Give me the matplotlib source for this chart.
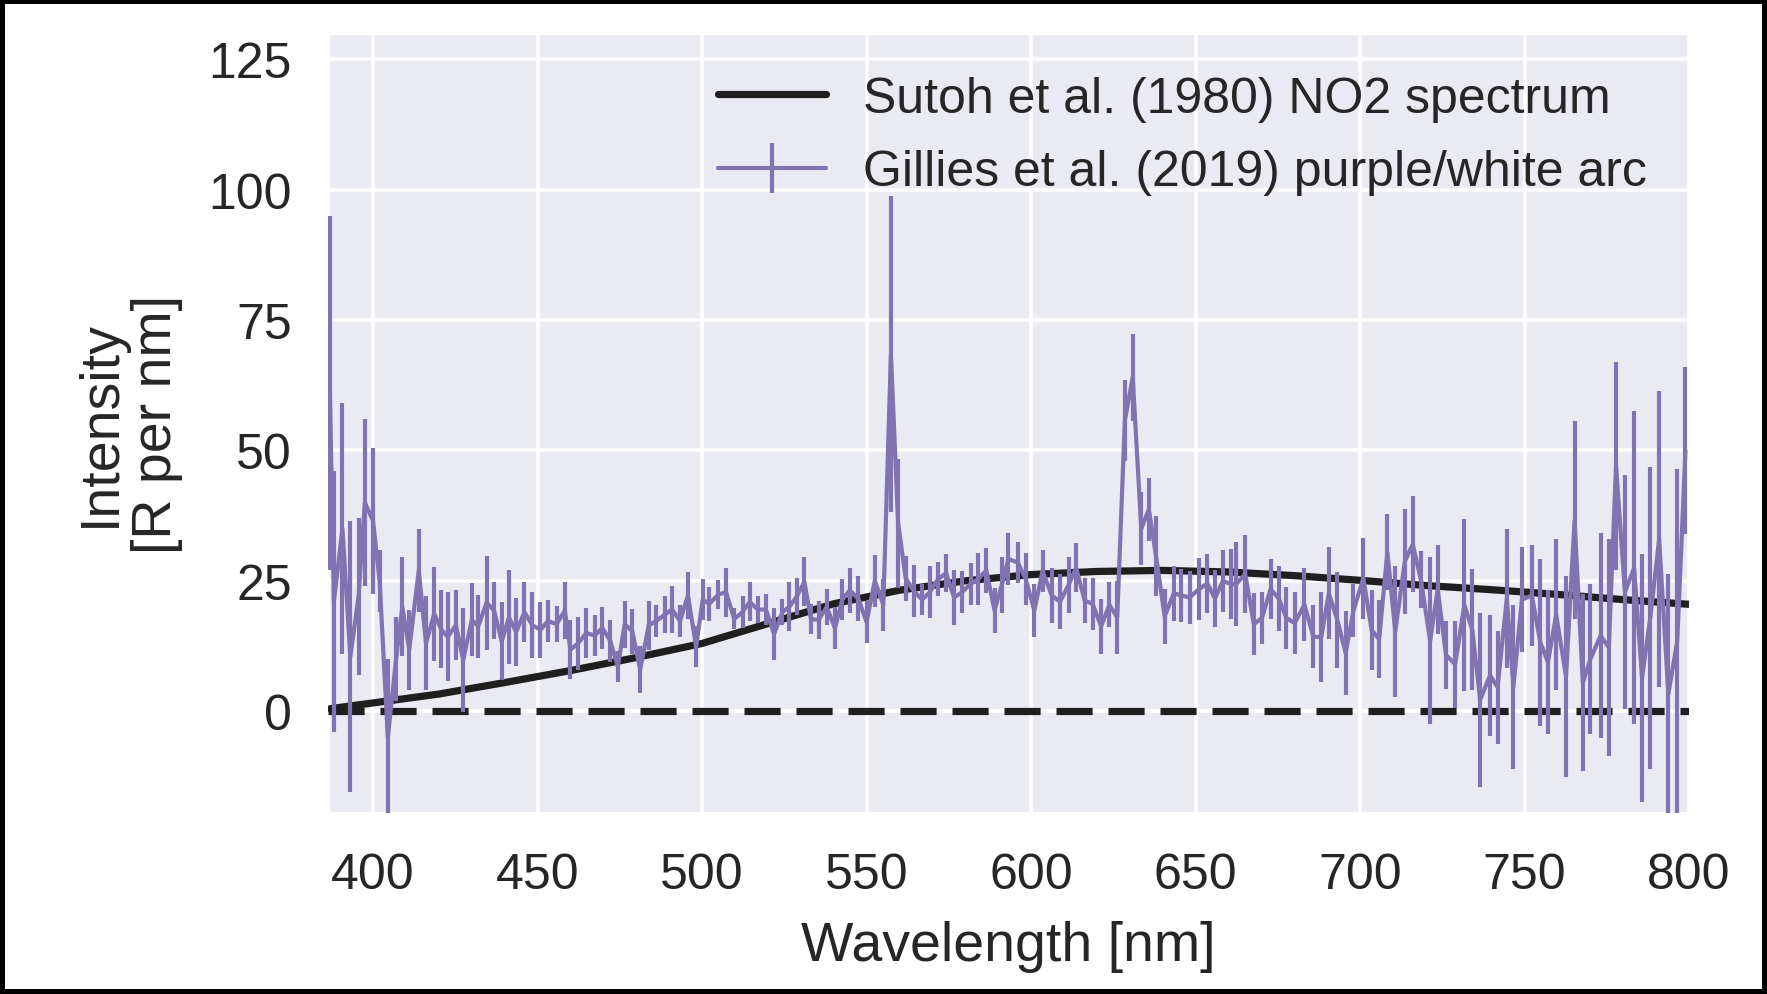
import numpy as np
import matplotlib
matplotlib.use("Agg")
import matplotlib.pyplot as plt
import seaborn as sns

sns.set_theme(style="darkgrid")
plt.rcParams['font.family'] = ['Liberation Sans', 'DejaVu Sans']

# Gillies et al. (2019) purple/white arc spectrum
wavelength = [
    386.9, 388.1, 390.7, 393.1, 395.6, 397.5, 400.0, 402.0, 404.5, 407.0,
    408.9, 411.0, 413.9, 416.1, 418.6, 420.7, 422.7, 425.2, 427.4, 430.0,
    432.0, 434.5, 436.8, 439.1, 441.3, 443.5, 446.0, 448.4, 450.9, 453.2,
    455.8, 458.3, 460.0, 462.3, 464.8, 467.4, 469.7, 472.1, 474.4, 476.5,
    478.8, 481.2, 483.8, 486.1, 488.6, 490.9, 493.3, 495.7, 498.2, 500.2,
    502.2, 505.0, 507.3, 509.8, 512.3, 514.5, 516.9, 519.4, 521.9, 524.4,
    526.5, 528.8, 531.1, 533.1, 535.4, 537.9, 540.4, 542.6, 544.9, 547.5,
    550.0, 552.5, 555.1, 557.4, 559.6, 561.9, 564.4, 566.9, 569.2, 571.7,
    574.2, 576.6, 579.0, 581.6, 583.8, 586.4, 588.9, 591.1, 593.1, 596.0,
    598.4, 601.0, 603.5, 606.3, 608.8, 611.4, 613.7, 616.3, 618.7, 621.3,
    623.8, 626.2, 628.5, 630.9, 633.5, 635.8, 638.0, 640.6, 643.4, 645.7,
    648.2, 651.0, 653.6, 655.9, 658.3, 660.7, 662.4, 665.1, 667.7, 670.2,
    672.8, 675.3, 677.6, 680.1, 683.1, 685.8, 688.2, 690.5, 693.1, 695.6,
    698.0, 701.0, 703.5, 705.8, 708.3, 710.7, 713.6, 716.0, 718.5, 721.3,
    723.6, 726.1, 728.9, 731.7, 734.1, 736.5, 739.5, 741.8, 744.6, 746.6,
    749.2, 752.2, 754.8, 757.1, 759.6, 762.6, 765.2, 767.7, 770.0, 773.1,
    775.6, 777.8, 780.5, 783.3, 785.7, 788.2, 790.9, 793.7, 796.4, 798.9,
]
intensity = [
    61, 21, 35, 10.5, 22, 40, 36.5, 25, -5, 10,
    20, 11.8, 27, 13, 18.7, 15.7, 14.3, 16.5, 9.8, 17.5,
    16.3, 20.8, 19.3, 13.4, 18, 15.2, 19, 16.5, 15.6, 17.3,
    16.7, 19.3, 11.8, 13, 15, 14.5, 16, 13.5, 8.6, 16.7,
    15.3, 8, 16.5, 17.3, 18.5, 19.5, 17.3, 22.2, 12.4, 21.4,
    20.6, 22.4, 22.8, 17.7, 19, 21, 19.5, 19.5, 14.8, 19,
    20, 22, 24.8, 17.7, 17.5, 20, 15.9, 21.4, 23.2, 21.6,
    17.1, 25, 20.4, 68.4, 36, 25.5, 23, 21.4, 22.8, 25.3,
    26.5, 21.8, 22.8, 24.4, 25.3, 27, 19.3, 24.2, 29.2, 28.5,
    25.3, 19.3, 26.9, 22.2, 21, 24.2, 27.5, 21.2, 20.6, 16.3,
    20.4, 18, 55.7, 64, 35, 38.7, 29.7, 18.2, 22.6, 22.2,
    21.8, 23.4, 24.5, 21.6, 25, 24.4, 24.4, 26.3, 16.7, 17.9,
    23.4, 21.6, 17.9, 16.9, 20.4, 14.3, 14.2, 22.6, 17.5, 11.2,
    19.3, 25.5, 15.6, 13.8, 30.5, 15.3, 28.7, 32, 25.2, 13.5,
    23.4, 10.8, 9, 20.4, 15.6, 2.2, 6.9, 4.6, 21.6, 4.7,
    21.4, 22.2, 13.2, 9.4, 18.5, 6.7, 36.6, 5.5, 10, 14.5,
    12.2, 47, 22.8, 27.5, 6.4, 17.9, 33, 3.3, 13.4, 50,
]
intensity_err = [
    34, 25, 24, 26, 15, 16, 14, 6, 15, 8,
    9.5, 7.7, 8, 9, 9, 7.5, 8.5, 6.7, 10, 7,
    6, 9, 5.5, 7.5, 9, 6.5, 5.7, 6.3, 5.3, 4,
    3.5, 5.5, 5.7, 5, 4.7, 4, 4, 4, 3, 4.5,
    4.3, 4.5, 4.7, 3, 3.5, 4.5, 3, 4.5, 4, 4,
    3.3, 2.8, 4.7, 2, 3, 3.7, 2.5, 3, 5, 2.5,
    4.7, 3.5, 4.7, 2.8, 3.7, 3.5, 4, 4, 4.3, 4.3,
    4, 5, 5, 30.3, 12.4, 4.3, 5, 3, 5, 3.3,
    3.7, 5.3, 4, 4, 5, 4.3, 4.3, 5.3, 5, 4,
    5, 5, 4, 5.3, 5.3, 5.3, 4.7, 4.3, 5, 5.3,
    4.3, 7, 7.7, 8.3, 7, 6, 7.7, 5.3, 5.3, 5,
    5, 6, 5.7, 5.5, 6, 6.7, 8, 7.5, 6, 5,
    5.7, 6.3, 6, 6, 7, 6, 8.6, 8.8, 9.2, 8,
    5, 7.8, 7.7, 7.5, 7.3, 12.6, 10, 9.2, 5.5, 16,
    8.5, 6.5, 8.3, 16.5, 11.6, 16.7, 11.6, 10.8, 13.4, 15.7,
    10, 9.6, 16, 13.8, 14.5, 19.3, 19, 17, 14.4, 19.7,
    20.8, 20, 22.4, 30, 23.8, 29, 28.3, 23, 33, 16,
]

# Sutoh et al. (1980) NO2 continuum
sutoh_wl = [387, 400, 420, 440, 460, 480, 500, 520, 540, 560, 580,
            600, 620, 640, 660, 680, 700, 720, 740, 760, 780, 800]
sutoh_int = [0.5, 1.6, 3.3, 5.5, 7.8, 10.3, 13.0, 16.8, 20.6, 23.2, 25.0,
             26.2, 26.8, 27.0, 26.7, 26.0, 25.1, 24.1, 23.3, 22.4, 21.4, 20.5]

xticks = [400, 450, 500, 550, 600, 650, 700, 750, 800]
yticks = [0, 25, 50, 75, 100, 125]

fig = plt.figure(figsize=(8.835, 4.975), dpi=200)
ax = fig.add_axes([0.1856, 0.1819, 0.7703, 0.7839])

ax.plot(sutoh_wl, sutoh_int, color='#1f1f1f', lw=2.6,
        label='Sutoh et al. (1980) NO2 spectrum', zorder=3)
ax.axhline(0, color='#1f1f1f', lw=2.6, ls=(0, (5, 2.2)), zorder=3)
ax.errorbar(wavelength, intensity, yerr=intensity_err, color='#8172B2',
            lw=1.5, elinewidth=1.5, capsize=0, zorder=4,
            label='Gillies et al. (2019) purple/white arc')

ax.set_xlim(386.3, 800)
ax.set_ylim(-19.5, 130)
ax.set_xticks(xticks)
ax.set_yticks(yticks)
ax.grid(color='white', lw=1.3)
ax.tick_params(labelsize=18, length=0, colors='.15')
ax.tick_params(axis='x', pad=14)
ax.tick_params(axis='y', pad=13)
ax.set_xlabel('Wavelength [nm]', fontsize=20, color='.15', labelpad=8)
ax.set_ylabel('Intensity\n[R per nm]', fontsize=20, color='.15',
              labelpad=9, linespacing=1.1)

ax.legend(loc='upper right', frameon=False, fontsize=18, labelspacing=0.55,
          handlelength=2.15, handletextpad=0.74, borderaxespad=0.45,
          labelcolor='.15')

fig.patch.set_edgecolor('black')
fig.patch.set_linewidth(3)

fig.savefig('out.png', dpi=200, edgecolor=fig.get_edgecolor())
